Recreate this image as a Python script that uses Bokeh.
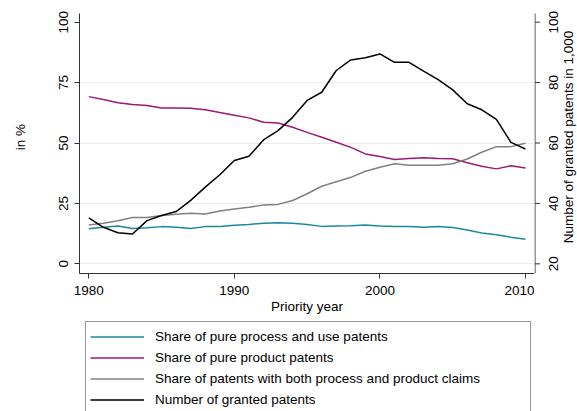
import math
from bokeh.plotting import figure
from bokeh.models import Range1d, LinearAxis, FixedTicker, Legend, LegendItem, Grid
from bokeh.core.properties import value
from bokeh.layouts import column, row
from bokeh.embed import file_html
from bokeh.resources import INLINE

years = list(range(1980, 2011))
share_process = [14.5, 15.1, 15.7, 14.6, 14.9, 15.4, 15.1, 14.6, 15.4, 15.5, 16.0, 16.3, 16.8, 17.0, 16.8,
                 16.3, 15.5, 15.7, 15.8, 16.1, 15.7, 15.4, 15.4, 15.1, 15.5, 15.0, 14.0, 12.8, 12.0, 11.0, 10.2]
share_product = [69.2, 68.0, 66.7, 65.9, 65.5, 64.5, 64.5, 64.4, 63.8, 62.6, 61.5, 60.4, 58.6, 58.3, 56.5,
                 54.4, 52.4, 50.3, 48.2, 45.5, 44.4, 43.2, 43.6, 43.9, 43.6, 43.5, 41.8, 40.4, 39.3, 40.6, 39.7]
share_both = [16.1, 16.8, 17.8, 19.2, 19.2, 20.0, 20.5, 20.9, 20.6, 21.9, 22.7, 23.4, 24.4, 24.6, 26.2,
              29.0, 32.1, 34.0, 35.8, 38.3, 40.0, 41.4, 40.8, 40.8, 40.8, 41.4, 43.4, 46.2, 48.5, 48.5, 49.9]
granted = [35.2, 32.1, 30.3, 29.9, 34.3, 36.0, 37.3, 41.0, 45.4, 49.5, 54.2, 55.6, 61.0, 64.1, 68.5,
           74.1, 76.8, 84.0, 87.5, 88.2, 89.5, 86.7, 86.7, 83.8, 81.0, 77.6, 73.0, 71.0, 67.8, 60.2, 58.0]

left_ticks = [0, 25, 50, 75, 100]
right_ticks = [20, 40, 60, 80, 100]
x_ticks = [1980, 1990, 2000, 2010]
labels = ["Share of pure process and use patents", "Share of pure product patents",
          "Share of patents with both process and product claims", "Number of granted patents"]
right_title = "Number of granted patents in 1,000"
colors = ["#1d87a3", "#9c1a72", "#808080", "#000000"]
series = [share_process, share_product, share_both, granted]

FONT = "Liberation Sans"
FS = "13.5px"
AXC = "#333333"

# axis extents (what the axis lines cover) and view ranges (with headroom above for labels)
left_bounds = (-4, 103.6)
num_bounds = (16.8, 102.88)
left_view = Range1d(-4, 108.98)
num_view = Range1d(16.8, 107.18)

p = figure(width=534, height=318, output_backend="svg", toolbar_location=None,
           x_range=Range1d(1979.36, 2010.62), y_range=left_view,
           min_border_left=79, min_border_right=0, min_border_top=0, min_border_bottom=45,
           x_axis_location=None, y_axis_location=None)
p.outline_line_color = None
p.extra_y_ranges = {"num": num_view}

def style_axis(ax):
    ax.axis_line_color = AXC
    ax.major_tick_line_color = AXC
    ax.major_tick_out = 5
    ax.major_tick_in = 0
    ax.minor_tick_line_color = None
    ax.major_label_text_font = FONT
    ax.major_label_text_font_size = FS
    ax.major_label_text_color = "black"
    ax.axis_label_text_font = FONT
    ax.axis_label_text_font_size = FS
    ax.axis_label_text_font_style = "normal"
    ax.axis_label_text_color = "black"

xax = LinearAxis(ticker=FixedTicker(ticks=x_ticks), axis_label="Priority year")
style_axis(xax)
xax.major_label_standoff = 7
xax.axis_label_standoff = 1
p.add_layout(xax, "below")

lax = LinearAxis(ticker=FixedTicker(ticks=left_ticks), axis_label="in %", bounds=left_bounds)
style_axis(lax)
lax.major_label_orientation = "vertical"
lax.major_label_standoff = 6
lax.axis_label_standoff = 29
p.add_layout(lax, "left")

p.xgrid.visible = False
p.ygrid.visible = False
p.add_layout(Grid(dimension=1, ticker=FixedTicker(ticks=[0, 25, 50, 75]),
                  grid_line_color="#e4edf0", grid_line_width=1))

for i, (s, col) in enumerate(zip(series, colors)):
    if i == 3:
        p.line(years, s, line_color=col, line_width=1.5, y_range_name="num")
    else:
        p.line(years, s, line_color=col, line_width=1.5)

# strip on the right: right axis (line, ticks, labels reading bottom-to-top, title)
p3 = figure(width=43, height=318, output_backend="svg", toolbar_location=None,
            x_range=Range1d(0, 43), y_range=num_view,
            min_border_left=0, min_border_right=0, min_border_top=0, min_border_bottom=45,
            x_axis_location=None, y_axis_location=None)
p3.outline_line_color = None
p3.xgrid.visible = False
p3.ygrid.visible = False
p3.segment(x0=[0.5], y0=[num_bounds[0]], x1=[0.5], y1=[num_bounds[1]], line_color=AXC, line_width=1)
p3.segment(x0=[0.5] * len(right_ticks), y0=right_ticks, x1=[5.5] * len(right_ticks), y1=right_ticks,
           line_color=AXC, line_width=1)
p3.text(x=[19] * len(right_ticks), y=right_ticks, text=[str(t) for t in right_ticks],
        angle=math.pi / 2, text_align="center", text_baseline="middle",
        text_font=value(FONT), text_font_size=value(FS), text_color="black")
p3.text(x=[34], y=[62], text=[right_title],
        angle=math.pi / 2, text_align="center", text_baseline="middle",
        text_font=value(FONT), text_font_size=value(FS), text_color="black")

# legend panel (lines drawn out of its view, only the legend shows)
p2 = figure(width=577, height=93, output_backend="svg", toolbar_location=None,
            x_range=Range1d(0, 1), y_range=Range1d(0, 1),
            min_border_left=79, min_border_right=43, min_border_top=0, min_border_bottom=0,
            x_axis_location=None, y_axis_location=None)
p2.outline_line_color = None
p2.xgrid.visible = False
p2.ygrid.visible = False
items = []
for lab, col, s in zip(labels, colors, series):
    rr = p2.line(years, s, line_color=col, line_width=1.5)
    items.append(LegendItem(label=lab, renderers=[rr]))

legend = Legend(items=items, location=(6, -4), orientation="vertical",
                padding=4, spacing=0, margin=0,
                glyph_width=54, glyph_height=21, label_height=21, label_standoff=11,
                label_width=371,
                label_text_font=FONT, label_text_font_size=FS, label_text_color="black",
                border_line_color=AXC, border_line_width=1, background_fill_alpha=1)
p2.add_layout(legend, "center")

layout = column(row(p, p3, spacing=0), p2, spacing=0)
open("out.html", "w").write(file_html(layout, INLINE))
